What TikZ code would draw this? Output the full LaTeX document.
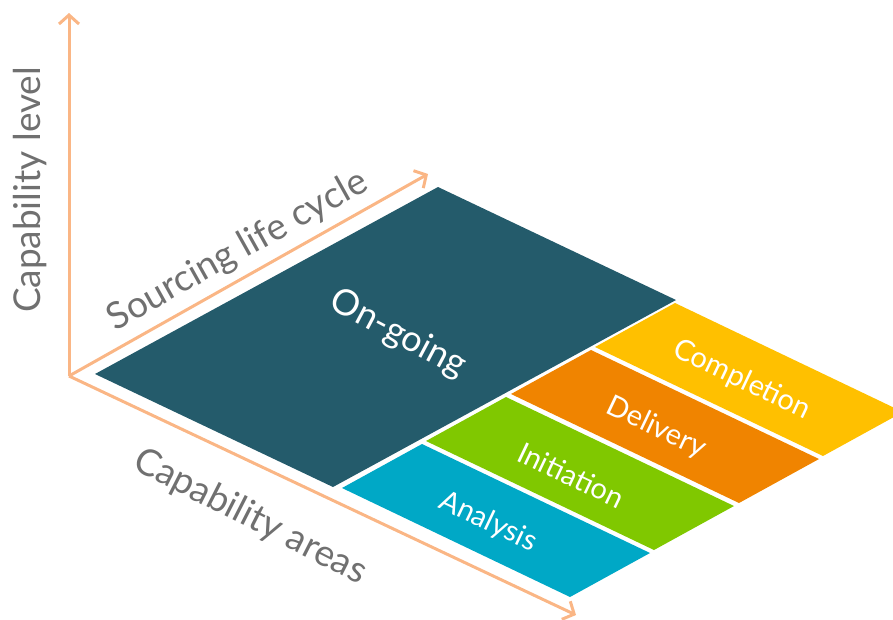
\documentclass[tikz,border=0pt]{standalone}
\usepackage{fontspec}
\setmainfont{Lato}
\usetikzlibrary{arrows.meta,calc}
\definecolor{axiscol}{HTML}{FAB685}
\definecolor{txtgray}{HTML}{707070}
\definecolor{darkteal}{HTML}{245B6B}
\definecolor{cyellow}{HTML}{FFC000}
\definecolor{corange}{HTML}{F08400}
\definecolor{cgreen}{HTML}{80C800}
\definecolor{cteal}{HTML}{00A8C6}
\tikzset{
  axis/.style={draw=axiscol, line width=3pt, -{Straight Barb[length=9pt,width=20pt]}},
  axislabel/.style={text=txtgray, font=\fontsize{37}{42}\selectfont, inner sep=0pt},
  striplabel/.style={text=white, font=\fontsize{29}{34}\selectfont, inner sep=0pt, rotate=-25.5},
  biglabel/.style={text=white, font=\fontsize{36}{42}\selectfont, inner sep=0pt, rotate=-28},
}
\begin{document}
\begin{tikzpicture}[x=1pt,y=-1pt]
\useasboundingbox (0,0) rectangle (893,619);
\clip (0,0) rectangle (893,619);
% axes
\coordinate (O) at (69,376);
\coordinate (up) at (69,13);
\coordinate (src) at (428,174);
\coordinate (area) at (576,615);
\draw[axis] (O) -- (up);
\draw[axis] (O) -- (src);
\draw[axis] (O) -- (area);
% main parallelogram
\fill[darkteal] (95,374) -- (438,187) -- (676,300) -- (333,487) -- cycle;
% strips
\def\strip#1#2#3{\fill[#3] (#1,#2) -- ++(80,-44) -- ++(228,109) -- ++(-80,44) -- cycle;}
\strip{342}{488}{cteal}
\strip{426}{441}{cgreen}
\strip{511}{394}{corange}
\strip{595}{347}{cyellow}
% labels
\node[axislabel, rotate=90] (lvl) at (30,190) {Capability level};
\node[axislabel, rotate=29.2] (slc) at (238,251) {Sourcing life cycle};
\node[axislabel, rotate=-27] (cap) at (250,517) {Capability areas};
\node[biglabel] (ong) at (398,334) {On-going};
\node[striplabel] (an) at (488,522) {Analysis};
\node[striplabel] (ini) at (571,475) {Initiation};
\node[striplabel] (del) at (656,428) {Delivery};
\node[striplabel] (com) at (742,380) {Completion};
\end{tikzpicture}
\end{document}
